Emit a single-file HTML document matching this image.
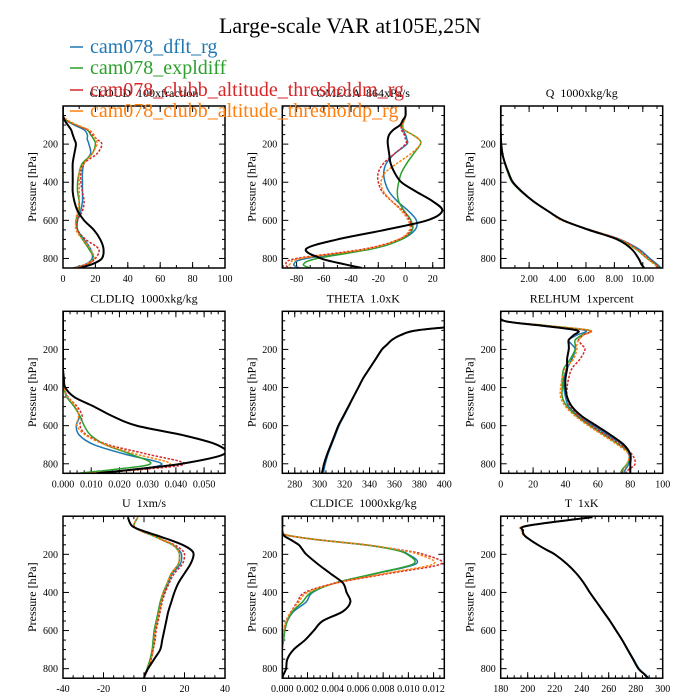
<!DOCTYPE html>
<html><head><meta charset="utf-8"><style>
body{margin:0;background:#fff;}
svg{display:block;font-family:"Liberation Serif",serif;}
svg text{white-space:pre;}
</style></head><body>
<svg id="chart" width="700" height="700" viewBox="0 0 700 700">
<text x="350" y="33" text-anchor="middle" font-size="22">Large-scale VAR at105E,25N</text>
</svg>
<script>
// pressure levels (hPa)
const P = [5,50,75,100,125,150,175,200,250,300,350,400,450,500,550,600,650,700,750,800,830,850];
const seriesNames = ["cam078_dflt_rg","cam078_expldiff","cam078_clubb_altitude_thresholdm_rg","cam078_clubb_altitude_thresholdp_rg","obs"];
const yTicks = [200,400,600,800];

const cloudBlue  = [0,0,2,7,13,15,15,16,17,13,12,12,12,12,11,9,9,13,17,18,14,6];
const cloudGreen = [0,0,2,8,15,17,19,20,18,12,10,9,9,10,10,8,9,12,16,19,15,7];
const cloudRed   = [0,0,2,8,15,18,21,24,21,13,11,11,12,13,12,9,9,14,22,20,15,8];
const cloudOrange= [0,0,3,9,16,19,20,21,18,13,10,10,10,10,9,8,8,12,17,19,14,7];
const cloudBlack = [0,0,1,3,5,6,7,8,7,6,6,6,6,7,9,13,19,23,25,24,18,10];
const cloudTicks = [0,20,40,60,80,100];

const omegaBlue  = [0,0,-1,-3,-2,0,1,1,-8,-14,-16,-15,-12,-6,2,8,7,-3,-25,-73,-82,-78];
const omegaGreen = [0,0,-1,-2,-1,5,10,11,6,1,-3,-5,-6,-5,-1,4,5,-3,-25,-65,-75,-70];
const omegaRed   = [0,0,-1,-3,-3,-1,0,0,-8,-16,-20,-20,-17,-10,-2,3,4,-5,-30,-80,-88,-85];
const omegaOrange= [0,0,-1,-2,-1,5,10,11,4,-6,-15,-18,-16,-10,-3,2,3,-5,-28,-77,-85,-84];
const omegaBlack = [0,0,-2,-4,-9,-12,-13,-13,-12,-11,-8,-3,8,20,27,16,-15,-50,-73,-62,-45,-32];
const omegaTicks = [-80,-60,-40,-20,0,20];

const qBlue  = [0,0,0,0,0,0.01,0.02,0.04,0.12,0.3,0.55,0.86,1.5,2.3,3.3,4.4,6.3,8.4,9.7,10.5,11.0,11.3];
const qGreen = [0,0,0,0,0,0.01,0.02,0.04,0.11,0.28,0.5,0.8,1.45,2.3,3.3,4.4,6.2,8.3,9.5,10.3,10.9,11.2];
const qRed   = [0,0,0,0,0,0.01,0.02,0.04,0.12,0.3,0.55,0.86,1.5,2.3,3.3,4.4,6.3,8.4,9.6,10.4,10.9,11.2];
const qOrange= [0,0,0,0,0,0.01,0.02,0.04,0.12,0.3,0.55,0.86,1.5,2.3,3.3,4.3,6.3,8.3,9.5,10.3,10.8,11.1];
const qBlack = [0,0,0,0,0,0.01,0.02,0.04,0.12,0.3,0.55,0.86,1.5,2.3,3.3,4.4,6.2,8.2,9.2,9.7,9.9,10.1];
const qTicks = [2,4,6,8,10];

const liqBlue  = [0,0,0,0,0,0,0,0,0,0,0,0.0003,0.0015,0.004,0.0058,0.0047,0.0058,0.011,0.022,0.035,0.025,0.008];
const liqGreen = [0,0,0,0,0,0,0,0,0,0,0,0.0003,0.0013,0.004,0.006,0.0075,0.0098,0.015,0.024,0.031,0.018,0.005];
const liqRed   = [0,0,0,0,0,0,0,0,0,0,0,0.0003,0.0018,0.005,0.0068,0.006,0.0085,0.016,0.030,0.043,0.028,0.009];
const liqOrange= [0,0,0,0,0,0,0,0,0,0,0,0.0003,0.0016,0.0045,0.0055,0.005,0.008,0.015,0.026,0.038,0.026,0.008];
const liqBlack = [0,0,0,0,0,0,0,0,0,0,0.0003,0.0008,0.004,0.011,0.0175,0.026,0.0425,0.0545,0.057,0.042,0.025,0.012];
const liqTicks = [0,0.01,0.02,0.03,0.04,0.05];

const thBlack = [800,480,420,378,365,358,354,350,345,340,335,331,327,323,319,315,312,309,306,303.5,302.5,301.7];
const thBlue  = [800,480,420,378,365,358,354,350,345,340,335,331,327,323.5,319.5,315.6,312.6,309.6,306.7,304.5,303.5,303];
const thGreen = [800,480,420,378,365,358,354,350,345,340,335,331,327,323,319,315,312,309,306,303.5,302.5,302];
const thRed   = [800,480,420,378,365,358,354,350,345,340,335,331,327,323,319,315,312,309,306,303.5,302.5,302];
const thOrange= [800,480,420,378,365,358,354,350,345,340,335,331,327,323,319,315,312,309,306,303.5,302.5,302];
const thTicks = [280,300,320,340,360,380,400];

const rhBlue  = [0,2,28,52,47,42,44,46,44,41,39,39,40,42,48,57,66,75,79,79,77,76];
const rhGreen = [0,2,28,55,50,46,46,46,43,39,38,38,38,41,47,55,64,73,80,78,75,74];
const rhRed   = [0,2,28,54,51,48,50,52,49,44,42,41,41,43,48,56,65,74,81,83,79,77];
const rhOrange= [0,2,28,55,51,48,47,47,45,40,38,37,37,40,46,54,63,72,79,78,76,75];
const rhBlack = [0,2,25,47,45,42,42,42,41,41,40,40,41,44,50,59,68,76,80,80,80,80];
const rhTicks = [0,20,40,60,80,100];

const uBlue  = [-3,-5,-2,4,9,14,17,18.5,18,14,12,10,8.5,7.5,6.5,5.5,5,4.5,3.5,2,0.8,0];
const uGreen = [-3,-5,-2,4,9,14,16.5,17.5,17,13.5,11.5,9.5,8,7,6,5,4.5,4,3,1.5,0.6,0];
const uRed   = [-3,-5,-2,4,9.5,15,18.5,20,19,15,12.5,10.5,9,8,7,6,5.5,4.5,3.5,2,0.8,0];
const uOrange= [-3,-5,-2,4,9,14,16.5,17.5,17,13.5,11.5,9.5,8.5,7.5,6.5,5.5,5,4.5,3.5,2,0.8,0];
const uBlack = [-8,-6,-1,6,13,19,23,24.5,23,20,17,15,13.5,12,11,10,9,8,5,2,0.5,0];
const uTicks = [-40,-20,0,20,40];

const iceBlue  = [0,0,0,0.0004,0.003,0.0065,0.0089,0.0100,0.0106,0.0075,0.0042,0.0024,0.0019,0.0009,0.0004,0.0002,0.0001,0,0,0,0,0];
const iceGreen = [0,0,0,0.0004,0.003,0.0065,0.0088,0.0099,0.0104,0.0074,0.0042,0.0023,0.0016,0.0008,0.0004,0.0002,0.0001,0,0,0,0,0];
const iceRed   = [0,0,0,0.0004,0.003,0.0066,0.0092,0.0112,0.0126,0.0085,0.0043,0.0018,0.0012,0.0007,0.0003,0.0001,0,0,0,0,0,0];
const iceOrange= [0,0,0,0.0004,0.003,0.0066,0.0091,0.0108,0.0120,0.0082,0.0043,0.0020,0.0013,0.0007,0.0003,0.0001,0,0,0,0,0,0];
const iceBlack = [0,0,0,0.0001,0.0007,0.0013,0.0016,0.0019,0.0028,0.0038,0.0048,0.0051,0.0054,0.0048,0.0032,0.0025,0.0018,0.0009,0.0004,0.0003,0.0001,0];
const iceTicks = [0,0.002,0.004,0.006,0.008,0.01,0.012];

const tBlue  = [248,200,196.5,197.5,202,207.5,213.5,220,229,236,241.5,246,251,256,261,265.7,270.2,274.3,278.4,282.6,287,290];
const tGreen = [248,200,196.5,197.5,202,207.5,213.5,220,229,236,241.5,246,251,256,261,265.5,270,274,278,282,286.5,289];
const tRed   = [248,200,196.5,197.5,202,207.5,213.5,220,229,236,241.5,246,251,256,261,265.5,270,274,278,282,286.5,289];
const tOrange= [248,199,195.5,197,202,207.5,213.5,220,229,236,241.5,246,251,256,261,265.5,270,274,278,282,286.5,289];
const tBlack = [248,200,196.5,197.5,202,207.5,213.5,220,229,236,241.5,246,251,256,261,265.5,270,274,278,282,286.5,289];
const tTicks = [180,200,220,240,260,280,300];

const colX = [63,282.3,500.7];
const rowY = [106,311.3,516.2];
const PW = 162, PH = 162, PMAX = 850;
const colors = ["#1f77b4","#2ca02c","#d62728","#ff7f0e","#000000"];
const NS = "http://www.w3.org/2000/svg";
const svg = document.getElementById("chart");

const panels = [
  {key:"cloud",title:"CLOUD  100xfraction",xmin:0,xmax:100,ticks:cloudTicks,fmt:v=>String(v),minor:10,data:[cloudBlue,cloudGreen,cloudRed,cloudOrange,cloudBlack]},
  {key:"omega",title:"OMEGA  864xPa/s",xmin:-90.5,xmax:28.5,ticks:omegaTicks,fmt:v=>String(v),minor:10,data:[omegaBlue,omegaGreen,omegaRed,omegaOrange,omegaBlack]},
  {key:"q",title:"Q  1000xkg/kg",xmin:0,xmax:11.4,ticks:qTicks,fmt:v=>v.toFixed(2),minor:1,data:[qBlue,qGreen,qRed,qOrange,qBlack]},
  {key:"cldliq",title:"CLDLIQ  1000xkg/kg",xmin:0,xmax:0.0574,ticks:liqTicks,fmt:v=>v.toFixed(3),minor:0.0025,data:[liqBlue,liqGreen,liqRed,liqOrange,liqBlack]},
  {key:"theta",title:"THETA  1.0xK",xmin:270,xmax:400,ticks:thTicks,fmt:v=>String(v),minor:5,data:[thBlue,thGreen,thRed,thOrange,thBlack]},
  {key:"relhum",title:"RELHUM  1xpercent",xmin:0,xmax:100,ticks:rhTicks,fmt:v=>String(v),minor:5,data:[rhBlue,rhGreen,rhRed,rhOrange,rhBlack]},
  {key:"u",title:"U  1xm/s",xmin:-40,xmax:40,ticks:uTicks,fmt:v=>String(v),minor:5,data:[uBlue,uGreen,uRed,uOrange,uBlack]},
  {key:"cldice",title:"CLDICE  1000xkg/kg",xmin:0,xmax:0.01285,ticks:iceTicks,fmt:v=>v.toFixed(3),minor:0.0005,data:[iceBlue,iceGreen,iceRed,iceOrange,iceBlack]},
  {key:"t",title:"T  1xK",xmin:180,xmax:300,ticks:tTicks,fmt:v=>String(v),minor:5,data:[tBlue,tGreen,tRed,tOrange,tBlack]}
];

function mk(tag, attrs, parent){
  const e = document.createElementNS(NS, tag);
  for (const k in attrs) e.setAttribute(k, attrs[k]);
  (parent||svg).appendChild(e);
  return e;
}
function smoothPath(pts){
  let d = "M"+pts[0][0].toFixed(2)+","+pts[0][1].toFixed(2);
  for (let i=0;i<pts.length-1;i++){
    const p0=pts[Math.max(0,i-1)], p1=pts[i], p2=pts[i+1], p3=pts[Math.min(pts.length-1,i+2)];
    const c1=[p1[0]+(p2[0]-p0[0])/6, p1[1]+(p2[1]-p0[1])/6];
    const c2=[p2[0]-(p3[0]-p1[0])/6, p2[1]-(p3[1]-p1[1])/6];
    d += " C"+c1[0].toFixed(2)+","+c1[1].toFixed(2)+" "+c2[0].toFixed(2)+","+c2[1].toFixed(2)+" "+p2[0].toFixed(2)+","+p2[1].toFixed(2);
  }
  return d;
}

panels.forEach((pn, idx) => {
  const x0 = colX[idx%3], y0 = rowY[Math.floor(idx/3)];
  const xs = v => x0 + (v - pn.xmin)/(pn.xmax - pn.xmin)*PW;
  const ys = p => y0 + p/PMAX*PH;
  const g = mk("g", {});
  
  

  const tt = mk("text", {x:x0+PW/2, y:y0-9, "text-anchor":"middle", "font-size":"12"}, g);
  tt.textContent = pn.title;
  
  

  const yl = mk("text", {x:0, y:0, "text-anchor":"middle", "font-size":"12", transform:"translate("+(x0-27)+","+(y0+PH/2)+") rotate(-90)"}, g);
  yl.textContent = "Pressure [hPa]";
  
  

  for (let p=50; p<PMAX; p+=50){
    const major = p%200===0;
    const L = major?6:3;
    mk("line",{x1:x0,x2:x0+L,y1:ys(p),y2:ys(p),stroke:"#000","stroke-width":1},g);
    mk("line",{x1:x0+PW,x2:x0+PW-L,y1:ys(p),y2:ys(p),stroke:"#000","stroke-width":1},g);
  }
  yTicks.forEach(p=>{
    const t = mk("text",{x:x0-5,y:ys(p)+3.5,"text-anchor":"end","font-size":"10"},g);
    t.textContent = String(p);
    
    
  });
  const start = Math.ceil(pn.xmin/pn.minor - 1e-9);
  for (let k=start; k*pn.minor<=pn.xmax+1e-12; k++){
    const v = k*pn.minor;
    const X = xs(v);
    mk("line",{x1:X,x2:X,y1:y0,y2:y0+3,stroke:"#000","stroke-width":1},g);
    mk("line",{x1:X,x2:X,y1:y0+PH,y2:y0+PH-3,stroke:"#000","stroke-width":1},g);
  }
  pn.ticks.forEach(v=>{
    const X = xs(v);
    mk("line",{x1:X,x2:X,y1:y0,y2:y0+6,stroke:"#000","stroke-width":1},g);
    mk("line",{x1:X,x2:X,y1:y0+PH,y2:y0+PH-6,stroke:"#000","stroke-width":1},g);
    const t = mk("text",{x:X,y:y0+PH+14,"text-anchor":"middle","font-size":"10"},g);
    t.textContent = pn.fmt(v);
    
    
  });

  const cp = mk("clipPath",{id:"clip"+idx},g);
  mk("rect",{x:x0,y:y0,width:PW,height:PH},cp);
  const lg = mk("g",{"clip-path":"url(#clip"+idx+")"},g);
  pn.data.forEach((arr, si) => {
    const pts = arr.map((v,i)=>[xs(v), ys(P[i])]);
    const path = mk("path",{d:smoothPath(pts),fill:"none",stroke:colors[si],"stroke-width":si===4?2:1.5,"stroke-linejoin":"round"},lg);
    if (si===2||si===3) path.setAttribute("stroke-dasharray","2.5,1.5");
    
    
  });
  const fr = mk("rect",{x:x0,y:y0,width:PW,height:PH,fill:"none",stroke:"#000","stroke-width":1.5},g);
  
  
});

const legY = [47,68,90,111];
for (let i=0;i<4;i++){
  const g = mk("g",{});
  
  
  mk("line",{x1:70,x2:83,y1:legY[i],y2:legY[i],stroke:colors[i],"stroke-width":1.5},g);
  const t = mk("text",{x:90,y:legY[i]+6,"font-size":"20",fill:colors[i]},g);
  t.textContent = seriesNames[i];
}
</script>
</body></html>
